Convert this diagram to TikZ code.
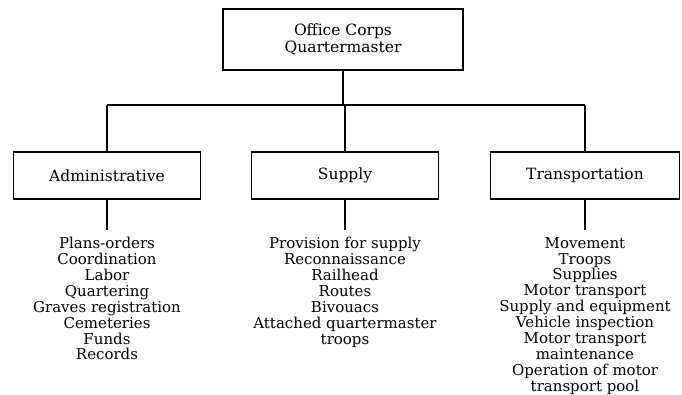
\documentclass[tikz,border=0pt]{standalone}
\usepackage{fontspec}
\setmainfont{DejaVu Serif}
\begin{document}
\begin{tikzpicture}[x=1pt,y=-1pt,
  box/.style={draw,line width=1.6pt,inner sep=0pt,align=center,font=\fontsize{15.5}{17}\selectfont},
  sub/.style={box,minimum width=187pt,minimum height=47pt},
  list/.style={anchor=north,inner sep=0pt,align=center,font=\fontsize{15}{15.9}\selectfont},
  conn/.style={line width=1.6pt}]
\useasboundingbox (0,0) rectangle (682,394);
\node[box,minimum width=240pt,minimum height=61pt] (top) at (343,39.5) {Office Corps\\Quartermaster};
\node[sub] (adm) at (107,175.5) {Administrative};
\node[sub] (sup) at (345,175.5) {Supply};
\node[sub,minimum width=189pt] (trn) at (585,175.5) {Transportation};
\coordinate (hub) at (345,105);
\draw[conn] (top.south) -- (top.south |- hub);
\draw[conn] (adm.north |- hub) -- (trn.north |- hub);
\draw[conn] (adm.north |- hub) -- (adm.north);
\draw[conn] (sup.north |- hub) -- (sup.north);
\draw[conn] (trn.north |- hub) -- (trn.north);
\node[list] (admlist) at (107,237) {Plans-orders\\Coordination\\Labor\\Quartering\\Graves registration\\Cemeteries\\Funds\\Records};
\node[list] (suplist) at (345,237) {Provision for supply\\Reconnaissance\\Railhead\\Routes\\Bivouacs\\Attached quartermaster\\troops};
\node[list] (trnlist) at (585,237) {Movement\\Troops\\Supplies\\Motor transport\\Supply and equipment\\Vehicle inspection\\Motor transport\\maintenance\\Operation of motor\\transport pool};
\coordinate (admend) at (adm.south |- 0,230);
\coordinate (supend) at (sup.south |- 0,230);
\coordinate (trnend) at (trn.south |- 0,230);
\draw[conn] (adm.south) -- (admend);
\draw[conn] (sup.south) -- (supend);
\draw[conn] (trn.south) -- (trnend);
\end{tikzpicture}
\end{document}
